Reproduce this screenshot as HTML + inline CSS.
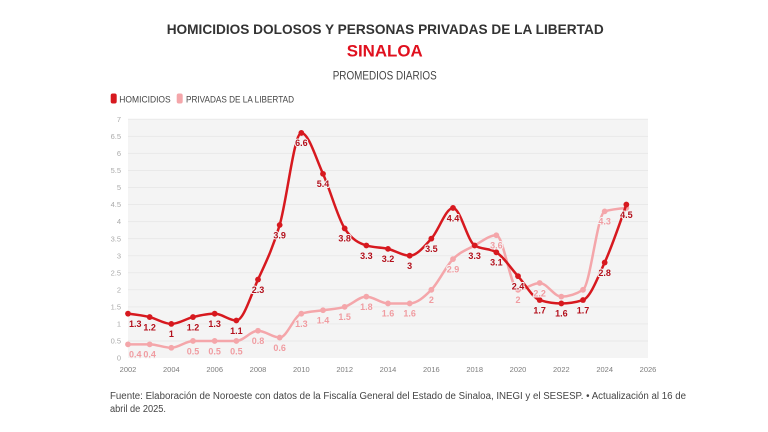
<!DOCTYPE html>
<html>
<head>
<meta charset="utf-8">
<style>
  html,body{margin:0;padding:0;background:#fff;}
  body{width:768px;height:432px;overflow:hidden;}
  svg{display:block;font-family:"Liberation Sans",sans-serif;}
</style>
</head>
<body>
<svg id="c" width="768" height="432" viewBox="0 0 768 432" xmlns="http://www.w3.org/2000/svg">
  <rect x="0" y="0" width="768" height="432" fill="#ffffff"/>
  <!-- Titles -->
  <text x="166.7" y="34" font-size="14" font-weight="bold" fill="#333" textLength="437" lengthAdjust="spacingAndGlyphs">HOMICIDIOS DOLOSOS Y PERSONAS PRIVADAS DE LA LIBERTAD</text>
  <text x="346.7" y="56.7" font-size="17" font-weight="bold" fill="#e0101e" textLength="76" lengthAdjust="spacingAndGlyphs">SINALOA</text>
  <text x="332.7" y="79.3" font-size="11.5" fill="#444" textLength="104" lengthAdjust="spacingAndGlyphs">PROMEDIOS DIARIOS</text>
  <!-- Legend -->
  <rect x="110.7" y="93.5" width="6" height="10" rx="2" fill="#d7191f"/>
  <text x="119.3" y="102.3" font-size="9.5" fill="#444" textLength="51.4" lengthAdjust="spacingAndGlyphs">HOMICIDIOS</text>
  <rect x="176.7" y="93.5" width="6" height="10" rx="2" fill="#f4a6aa"/>
  <text x="186" y="102.3" font-size="9.5" fill="#444" textLength="108" lengthAdjust="spacingAndGlyphs">PRIVADAS DE LA LIBERTAD</text>
  <!-- Plot background -->
  <rect x="128" y="119.3" width="520" height="238.7" fill="#f4f4f4"/>
  <g id="grid"></g>
  <g id="ylab" font-size="7.5" fill="#aaa" text-anchor="end"></g>
  <g id="xlab" font-size="7.5" fill="#7d7d7d" text-anchor="middle"></g>
  <g id="series"></g>
  <!-- Footer -->
  <text x="110" y="399" font-size="10" fill="#444" textLength="576" lengthAdjust="spacingAndGlyphs">Fuente: Elaboración de Noroeste con datos de la Fiscalía General del Estado de Sinaloa, INEGI y el SESESP. • Actualización al 16 de</text>
  <text x="110" y="412" font-size="10" fill="#444" textLength="56" lengthAdjust="spacingAndGlyphs">abril de 2025.</text>
</svg>
<script>
(function(){
  var NS="http://www.w3.org/2000/svg";
  function X(yr){return 128+(yr-2002)*21.667;}
  function Y(v){return 358-v*34.1;}
  function el(tag,attrs,parent,txt){var e=document.createElementNS(NS,tag);for(var k in attrs)e.setAttribute(k,attrs[k]);if(txt!==undefined)e.textContent=txt;parent.appendChild(e);return e;}
  var grid=document.getElementById('grid'),ylab=document.getElementById('ylab'),xlab=document.getElementById('xlab'),ser=document.getElementById('series');
  for(var i=0;i<=14;i++){
    var v=i*0.5,y=Y(v);
    if(i>0) el('line',{x1:128,x2:648,y1:y,y2:y,stroke:'#e9e9e9','stroke-width':1},grid);
    el('text',{x:121,y:y+2.6},ylab,String(v));
  }
  for(var yr=2002;yr<=2026;yr+=2){el('text',{x:X(yr),y:372},xlab,String(yr));}

  function monotone(pts){
    var n=pts.length,m=new Array(n);
    function sign(x){return x<0?-1:1;}
    for(var i=1;i<n-1;i++){
      var x0=pts[i-1][0],y0=pts[i-1][1],x1=pts[i][0],y1=pts[i][1],x2=pts[i+1][0],y2=pts[i+1][1];
      var h0=x1-x0,h1=x2-x1,s0=(y1-y0)/h0,s1=(y2-y1)/h1,p=(s0*h1+s1*h0)/(h0+h1);
      m[i]=(sign(s0)+sign(s1))*Math.min(Math.abs(s0),Math.abs(s1),0.5*Math.abs(p))||0;
    }
    var h=pts[1][0]-pts[0][0];
    m[0]=(3*(pts[1][1]-pts[0][1])/h-m[1])/2;
    h=pts[n-1][0]-pts[n-2][0];
    m[n-1]=(3*(pts[n-1][1]-pts[n-2][1])/h-m[n-2])/2;
    var d='M'+pts[0][0].toFixed(2)+','+pts[0][1].toFixed(2);
    for(var j=1;j<n;j++){
      var a=pts[j-1],b=pts[j],dx=(b[0]-a[0])/3;
      d+='C'+(a[0]+dx).toFixed(2)+','+(a[1]+dx*m[j-1]).toFixed(2)+' '+(b[0]-dx).toFixed(2)+','+(b[1]-dx*m[j]).toFixed(2)+' '+b[0].toFixed(2)+','+b[1].toFixed(2);
    }
    return d;
  }

  var hom=[1.3,1.2,1.0,1.2,1.3,1.1,2.3,3.9,6.6,5.4,3.8,3.3,3.2,3.0,3.5,4.4,3.3,3.1,2.4,1.7,1.6,1.7,2.8,4.5];
  var priv=[0.4,0.4,0.3,0.5,0.5,0.5,0.8,0.6,1.3,1.4,1.5,1.8,1.6,1.6,2.0,2.9,3.3,3.6,2.0,2.2,1.8,2.0,4.3,4.4];
  var privLbl=[1,1,0,1,1,1,1,1,1,1,1,1,1,1,1,1,0,1,1,1,0,0,1,0];

  function draw(data,color){
    var pts=data.map(function(v,i){return [X(2002+i),Y(v)];});
    el('path',{d:monotone(pts),fill:'none',stroke:color,'stroke-width':2.5,'stroke-linejoin':'round','stroke-linecap':'round'},ser);
    pts.forEach(function(p){el('circle',{cx:p[0],cy:p[1],r:2.9,fill:color},ser);});
    return pts;
  }
  function labels(data,pts,lblColor,showArr){
    data.forEach(function(v,i){
      if(showArr && !showArr[i]) return;
      var s=(Math.round(v*10)/10).toString();
      var x=pts[i][0],anchor='middle';
      if(i===0){x=129;anchor='start';}
      el('text',{x:x,y:pts[i][1]+13.3,'font-size':9,'font-weight':'bold',fill:lblColor,'text-anchor':anchor,
        stroke:'#f4f4f4','stroke-width':2,'paint-order':'stroke','stroke-linejoin':'round'},ser,s);
    });
  }
  var pp=draw(priv,'#f4a6aa');
  var hp=draw(hom,'#d7191f');
  labels(priv,pp,'#f09ca1',privLbl);
  labels(hom,hp,'#b3101c',null);
})();
</script>
</body>
</html>
